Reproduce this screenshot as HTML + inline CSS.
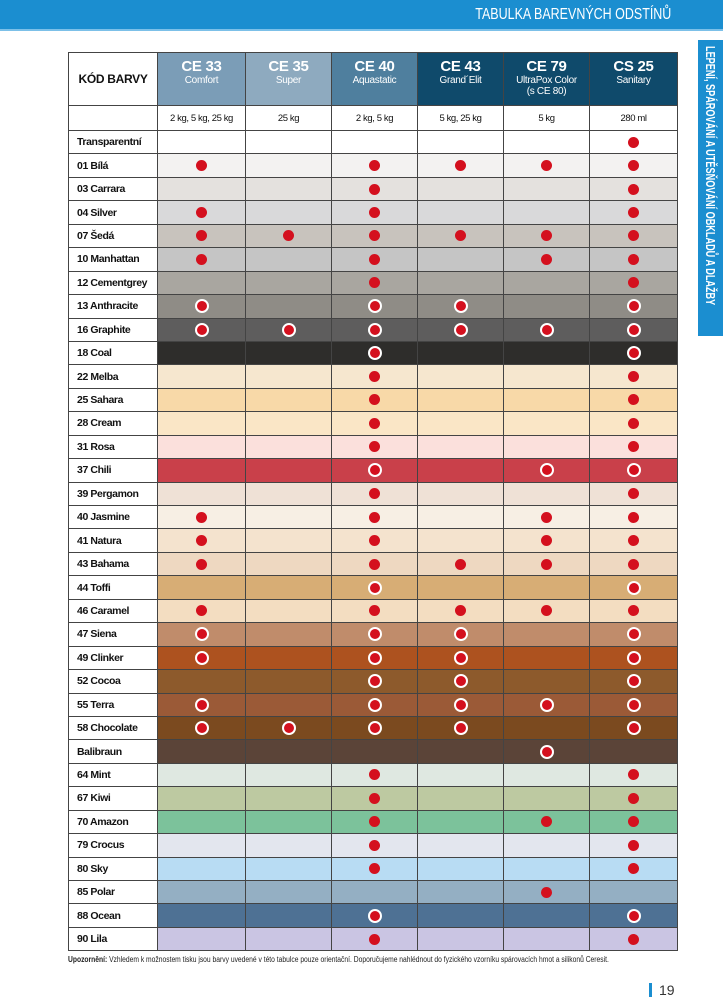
<!DOCTYPE html>
<html><head><meta charset="utf-8">
<style>
*{margin:0;padding:0;box-sizing:border-box}
body{width:723px;height:1000px;background:#fff;position:relative;overflow:hidden;font-family:"Liberation Sans",sans-serif;color:#111}
.top{position:absolute;left:0;top:0;width:723px;height:31px;background:#1b8ed0;border-bottom:2px solid #7cc0e8}
.top span{position:absolute;right:52px;top:6px;color:#fff;font-size:16px;display:inline-block;transform:scaleX(.78);transform-origin:right}
.tab{position:absolute;left:698px;top:40px;width:25px;height:296px;background:#1b8ed0;overflow:hidden}
.tab span{position:absolute;left:5px;top:6px;writing-mode:vertical-rl;color:#fff;font-size:12.5px;font-weight:bold;white-space:nowrap;display:inline-block;transform:scaleY(.73);transform-origin:top}
table{position:absolute;left:68px;top:52px;border-collapse:collapse;table-layout:fixed;width:609px}
td{border:1px solid #444;text-align:center;height:23.45px;padding:0;font-size:10px;position:relative;vertical-align:middle;white-space:nowrap}
td:first-child{text-align:left;padding-left:8px;background:#fff;font-weight:bold;font-size:10.5px;letter-spacing:-.4px}
tr.h td{height:53px;color:#fff;font-size:10px;line-height:11px;vertical-align:top;padding-top:5px;letter-spacing:-.3px}
tr.h td b{display:block;font-size:15px;line-height:17px}
tr.h td:first-child{color:#111;font-size:12px;text-align:center;vertical-align:middle;padding:0}
tr.s td{height:25px;font-size:9.5px;background:#fff;letter-spacing:-.4px}
i,u{display:inline-block;width:11px;height:11px;border-radius:50%;background:#d4101e;vertical-align:middle}
u{width:14px;height:14px;border:2px solid #fff}
.foot{position:absolute;left:68px;top:955px;font-size:8px;color:#222;white-space:nowrap;display:inline-block;transform:scaleX(.84);transform-origin:left}
.pg{position:absolute;left:649px;top:983px;font-size:14px;color:#333;border-left:3px solid #1b8ed0;padding-left:7px;line-height:14px}
</style></head><body>
<div class="top"><span>TABULKA BAREVNÝCH ODSTÍNŮ</span></div>
<div class="tab"><span>LEPENÍ, SPÁROVÁNÍ A UTĚSŇOVÁNÍ OBKLADŮ A DLAŽBY</span></div>
<table>
<colgroup><col style="width:89px"><col style="width:88px"><col style="width:86px"><col style="width:86px"><col style="width:86px"><col style="width:86px"><col style="width:88px"></colgroup>
<tr class="h"><td>KÓD BARVY</td><td style="background:#7b9db7"><b>CE 33</b>Comfort</td><td style="background:#8eaabf"><b>CE 35</b>Super</td><td style="background:#4f7f9e"><b>CE 40</b>Aquastatic</td><td style="background:#0f4a6b"><b>CE 43</b>Grand´Elit</td><td style="background:#0f4a6b"><b>CE 79</b>UltraPox Color<br>(s CE 80)</td><td style="background:#0f4a6b"><b>CS 25</b>Sanitary</td></tr>
<tr class="s"><td></td><td>2 kg, 5 kg, 25 kg</td><td>25 kg</td><td>2 kg, 5 kg</td><td>5 kg, 25 kg</td><td>5 kg</td><td>280 ml</td></tr>
<tr style="background:#fff"><td>Transparentní</td><td></td><td></td><td></td><td></td><td></td><td><i></i></td></tr>
<tr style="background:#f3f2f1"><td>01 Bílá</td><td><i></i></td><td></td><td><i></i></td><td><i></i></td><td><i></i></td><td><i></i></td></tr>
<tr style="background:#e4e1de"><td>03 Carrara</td><td></td><td></td><td><i></i></td><td></td><td></td><td><i></i></td></tr>
<tr style="background:#d9d9da"><td>04 Silver</td><td><i></i></td><td></td><td><i></i></td><td></td><td></td><td><i></i></td></tr>
<tr style="background:#c8c3bd"><td>07 Šedá</td><td><i></i></td><td><i></i></td><td><i></i></td><td><i></i></td><td><i></i></td><td><i></i></td></tr>
<tr style="background:#c5c5c5"><td>10 Manhattan</td><td><i></i></td><td></td><td><i></i></td><td></td><td><i></i></td><td><i></i></td></tr>
<tr style="background:#a9a6a0"><td>12 Cementgrey</td><td></td><td></td><td><i></i></td><td></td><td></td><td><i></i></td></tr>
<tr style="background:#8f8c86"><td>13 Anthracite</td><td><u></u></td><td></td><td><u></u></td><td><u></u></td><td></td><td><u></u></td></tr>
<tr style="background:#5e5d5d"><td>16 Graphite</td><td><u></u></td><td><u></u></td><td><u></u></td><td><u></u></td><td><u></u></td><td><u></u></td></tr>
<tr style="background:#2e2d2b"><td>18 Coal</td><td></td><td></td><td><u></u></td><td></td><td></td><td><u></u></td></tr>
<tr style="background:#f6e7cf"><td>22 Melba</td><td></td><td></td><td><i></i></td><td></td><td></td><td><i></i></td></tr>
<tr style="background:#f8d9a8"><td>25 Sahara</td><td></td><td></td><td><i></i></td><td></td><td></td><td><i></i></td></tr>
<tr style="background:#fae6c6"><td>28 Cream</td><td></td><td></td><td><i></i></td><td></td><td></td><td><i></i></td></tr>
<tr style="background:#fbe0dc"><td>31 Rosa</td><td></td><td></td><td><i></i></td><td></td><td></td><td><i></i></td></tr>
<tr style="background:#c9404a"><td>37 Chili</td><td></td><td></td><td><u></u></td><td></td><td><u></u></td><td><u></u></td></tr>
<tr style="background:#efe1d6"><td>39 Pergamon</td><td></td><td></td><td><i></i></td><td></td><td></td><td><i></i></td></tr>
<tr style="background:#f7efe4"><td>40 Jasmine</td><td><i></i></td><td></td><td><i></i></td><td></td><td><i></i></td><td><i></i></td></tr>
<tr style="background:#f4e3ce"><td>41 Natura</td><td><i></i></td><td></td><td><i></i></td><td></td><td><i></i></td><td><i></i></td></tr>
<tr style="background:#eed8c1"><td>43 Bahama</td><td><i></i></td><td></td><td><i></i></td><td><i></i></td><td><i></i></td><td><i></i></td></tr>
<tr style="background:#d7ad75"><td>44 Toffi</td><td></td><td></td><td><u></u></td><td></td><td></td><td><u></u></td></tr>
<tr style="background:#f3ddc1"><td>46 Caramel</td><td><i></i></td><td></td><td><i></i></td><td><i></i></td><td><i></i></td><td><i></i></td></tr>
<tr style="background:#c08c6b"><td>47 Siena</td><td><u></u></td><td></td><td><u></u></td><td><u></u></td><td></td><td><u></u></td></tr>
<tr style="background:#ad521f"><td>49 Clinker</td><td><u></u></td><td></td><td><u></u></td><td><u></u></td><td></td><td><u></u></td></tr>
<tr style="background:#8d5a2c"><td>52 Cocoa</td><td></td><td></td><td><u></u></td><td><u></u></td><td></td><td><u></u></td></tr>
<tr style="background:#9b5a37"><td>55 Terra</td><td><u></u></td><td></td><td><u></u></td><td><u></u></td><td><u></u></td><td><u></u></td></tr>
<tr style="background:#7b4a1f"><td>58 Chocolate</td><td><u></u></td><td><u></u></td><td><u></u></td><td><u></u></td><td></td><td><u></u></td></tr>
<tr style="background:#5b4438"><td>Balibraun</td><td></td><td></td><td></td><td></td><td><u></u></td><td></td></tr>
<tr style="background:#dfe8e1"><td>64 Mint</td><td></td><td></td><td><i></i></td><td></td><td></td><td><i></i></td></tr>
<tr style="background:#bdc9a1"><td>67 Kiwi</td><td></td><td></td><td><i></i></td><td></td><td></td><td><i></i></td></tr>
<tr style="background:#7cc29b"><td>70 Amazon</td><td></td><td></td><td><i></i></td><td></td><td><i></i></td><td><i></i></td></tr>
<tr style="background:#e3e6ee"><td>79 Crocus</td><td></td><td></td><td><i></i></td><td></td><td></td><td><i></i></td></tr>
<tr style="background:#b8dcf3"><td>80 Sky</td><td></td><td></td><td><i></i></td><td></td><td></td><td><i></i></td></tr>
<tr style="background:#94afc3"><td>85 Polar</td><td></td><td></td><td></td><td></td><td><i></i></td><td></td></tr>
<tr style="background:#4e7194"><td>88 Ocean</td><td></td><td></td><td><u></u></td><td></td><td></td><td><u></u></td></tr>
<tr style="background:#cac5e3"><td>90 Lila</td><td></td><td></td><td><i></i></td><td></td><td></td><td><i></i></td></tr>
</table>
<div class="foot"><b>Upozornění:</b> Vzhledem k možnostem tisku jsou barvy uvedené v této tabulce pouze orientační. Doporučujeme nahlédnout do fyzického vzorníku spárovacích hmot a silikonů Ceresit.</div>
<div class="pg">19</div>
</body></html>
